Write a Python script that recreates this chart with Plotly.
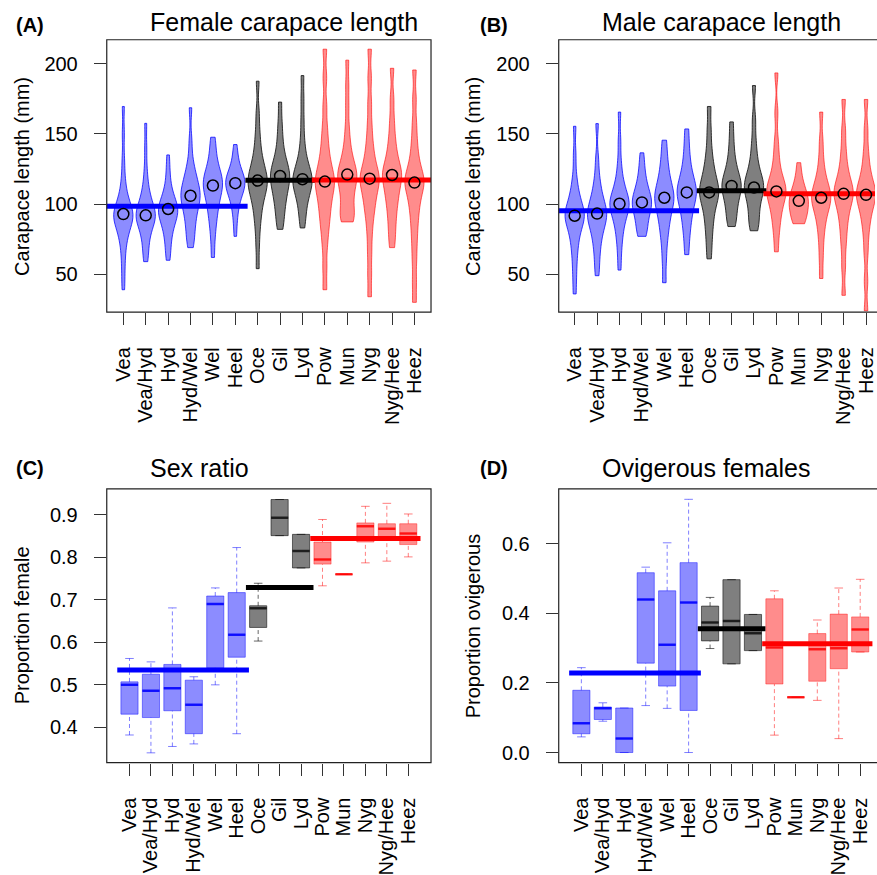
import plotly.graph_objects as go

# ---------------- data ----------------
sites = ["Vea", "Vea/Hyd", "Hyd", "Hyd/Wel", "Wel", "Heel", "Oce", "Gil", "Lyd",
         "Pow", "Mun", "Nyg", "Nyg/Hee", "Heez"]
site_group = [0, 0, 0, 0, 0, 0, 1, 1, 1, 2, 2, 2, 2, 2]

# (A) female carapace length (mm): representative values per site
female_cl = [
    [39, 50, 60, 68, 74, 78, 81, 84, 86, 88, 90, 91, 92, 93, 94, 96, 98, 100, 103, 107, 112, 120, 132, 150, 169.5],
    [59, 64, 70, 75, 79, 82, 85, 87, 89, 90, 91, 92, 93, 94, 96, 98, 100, 103, 106, 110, 116, 125, 140, 157.5],
    [60, 66, 72, 77, 81, 84, 87, 89, 91, 93, 94, 95, 96, 97, 98, 100, 102, 104, 107, 111, 117, 125, 135],
    [69, 74, 79, 84, 88, 92, 95, 98, 101, 103, 105, 106, 108, 110, 112, 115, 118, 121, 125, 132, 145, 168.6],
    [62, 75, 84, 90, 95, 99, 103, 106, 109, 111, 113, 115, 117, 119, 121, 124, 128, 133, 140, 147.6],
    [77, 88, 95, 100, 104, 107, 109, 111, 113, 114, 115, 116, 117, 118, 120, 122, 125, 129, 135, 142.4],
    [54, 70, 82, 90, 96, 101, 105, 108, 111, 113, 115, 117, 119, 121, 124, 127, 131, 136, 143, 152, 165, 187.5],
    [82, 88, 94, 99, 103, 107, 110, 113, 116, 118, 120, 122, 124, 127, 130, 134, 140, 148, 158, 172.6],
    [83, 90, 96, 101, 105, 108, 111, 113, 115, 117, 118, 120, 122, 125, 128, 132, 138, 147, 160, 175, 191.5],
    [39, 55, 70, 80, 87, 93, 98, 103, 107, 111, 114, 116, 119, 122, 126, 131, 137, 145, 155, 170, 190, 210.3],
    [87.3, 88, 90, 93, 97, 101, 105, 109, 112, 115, 118, 120, 121, 123, 126, 129, 133, 138, 145, 155, 170, 185, 202.5],
    [34, 50, 65, 78, 88, 95, 100, 105, 109, 113, 116, 118, 120, 123, 127, 132, 138, 146, 157, 172, 190, 210.3],
    [69, 78, 86, 93, 99, 104, 108, 112, 116, 119, 121, 123, 126, 130, 135, 141, 149, 160, 175, 196.7],
    [30, 45, 60, 72, 82, 90, 97, 102, 107, 111, 114, 116, 118, 121, 125, 130, 137, 146, 158, 175, 195.5],
]
female_median = [92.9, 92.0, 96.5, 105.9, 113.2, 114.9, 116.7, 120.0, 117.7, 116.0, 121.0, 118.1, 120.7, 115.3]
female_group_mean = [98.4, 117.0, 117.2]

# (B) male carapace length (mm)
male_cl = [
    [36, 48, 58, 66, 72, 77, 81, 84, 87, 89, 91, 92, 93, 95, 97, 100, 103, 107, 112, 120, 135, 155.4],
    [49, 58, 66, 72, 77, 81, 84, 87, 89, 91, 93, 94, 96, 98, 101, 104, 108, 113, 120, 132, 157.3],
    [53, 65, 74, 80, 85, 89, 92, 95, 97, 99, 100, 101, 103, 105, 108, 111, 115, 121, 130, 145, 165.5],
    [77, 79, 82, 86, 90, 93, 96, 98, 100, 101, 102, 104, 106, 109, 112, 116, 121, 128, 136.5],
    [44, 60, 72, 80, 86, 91, 95, 99, 102, 104, 106, 109, 112, 116, 121, 127, 135, 145.5],
    [64, 75, 83, 89, 94, 98, 102, 105, 107, 109, 111, 114, 117, 121, 126, 133, 142, 153.5],
    [61, 72, 81, 88, 94, 99, 103, 106, 108, 110, 113, 116, 120, 125, 131, 140, 153, 169.5],
    [84, 88, 93, 98, 102, 106, 109, 111, 113, 115, 117, 120, 124, 129, 136, 146, 158.5],
    [81, 85, 90, 95, 100, 104, 108, 110, 112, 114, 116, 119, 123, 128, 135, 145, 160, 184.4],
    [66, 78, 86, 92, 97, 101, 105, 107, 109, 111, 113, 116, 120, 126, 134, 145, 165, 193.4],
    [86, 87, 89, 92, 95, 98, 100, 102, 103, 105, 107, 110, 114, 120, 129.5],
    [47, 62, 74, 83, 89, 94, 98, 101, 103, 105, 107, 110, 113, 117, 123, 132, 145, 165.5],
    [35, 55, 70, 80, 88, 94, 99, 103, 106, 108, 110, 113, 117, 122, 129, 139, 153, 174.5],
    [24, 45, 65, 78, 87, 93, 98, 102, 105, 107, 109, 112, 116, 121, 128, 138, 153, 174.5],
]
male_median = [91.7, 93.2, 100.2, 101.2, 104.5, 108.3, 108.3, 112.9, 111.8, 109.0, 102.3, 104.5, 107.3, 106.6]
male_group_mean = [95.3, 109.4, 107.3]

# (C) sex ratio (proportion female): box statistics
sex_lo  = [0.382, 0.340, 0.355, 0.361, 0.500, 0.385, 0.603, 0.851, 0.775, 0.733, 0.760, 0.787, 0.791, 0.801]
sex_q1  = [0.431, 0.423, 0.439, 0.385, 0.540, 0.565, 0.635, 0.851, 0.775, 0.784, 0.760, 0.836, 0.848, 0.830]
sex_med = [0.500, 0.486, 0.492, 0.453, 0.690, 0.618, 0.680, 0.893, 0.815, 0.795, 0.760, 0.873, 0.867, 0.856]
sex_q3  = [0.507, 0.525, 0.548, 0.511, 0.709, 0.717, 0.686, 0.936, 0.854, 0.836, 0.760, 0.881, 0.879, 0.879]
sex_hi  = [0.562, 0.554, 0.681, 0.519, 0.728, 0.823, 0.739, 0.936, 0.854, 0.889, 0.760, 0.920, 0.927, 0.902]
sex_group_mean = [0.535, 0.729, 0.844]

# (D) proportion ovigerous females: box statistics
ovi_lo  = [0.045, 0.090, 0.000, 0.135, 0.127, 0.000, 0.299, 0.255, 0.293, 0.050, 0.159, 0.150, 0.040, 0.289]
ovi_q1  = [0.054, 0.095, 0.000, 0.257, 0.191, 0.121, 0.321, 0.255, 0.293, 0.197, 0.159, 0.205, 0.241, 0.289]
ovi_med = [0.084, 0.127, 0.040, 0.440, 0.310, 0.431, 0.374, 0.378, 0.343, 0.302, 0.159, 0.297, 0.300, 0.354]
ovi_q3  = [0.179, 0.131, 0.128, 0.517, 0.465, 0.546, 0.421, 0.497, 0.397, 0.442, 0.159, 0.342, 0.398, 0.390]
ovi_hi  = [0.244, 0.143, 0.128, 0.533, 0.603, 0.728, 0.446, 0.497, 0.397, 0.465, 0.159, 0.381, 0.473, 0.498]
ovi_group_mean = [0.229, 0.356, 0.313]

# group spans for the mean lines (site index units)
violin_group_span = [(0.0, 6.55), (6.45, 9.55), (9.42, 15.0)]
box_group_span = [(0.43, 6.57), (6.43, 9.58), (9.43, 14.57)]

# ---------------- styles ----------------
FONT = "Liberation Sans, Arial, sans-serif"
fill_col = ["rgba(0,0,255,0.45)", "rgba(0,0,0,0.5)", "rgba(255,0,0,0.45)"]
edge_col = ["rgba(0,0,255,0.75)", "rgba(30,30,30,0.9)", "rgba(255,0,0,0.6)"]
box_edge = ["rgba(0,0,255,0.45)", "rgba(20,20,20,0.6)", "rgba(255,0,0,0.4)"]
med_col = ["rgba(0,0,255,0.85)", "rgba(20,20,20,0.85)", "rgba(255,0,0,0.8)"]
whisk_col = ["rgba(0,0,255,0.5)", "rgba(0,0,0,0.6)", "rgba(255,0,0,0.5)"]
mean_col = ["#0000ff", "#000000", "#ff0000"]

pos = [i + 1 for i in range(len(sites))]
W, H = 877, 875

fig = go.Figure()


def px_x(p):
    return p / W


def px_y(p):
    return 1 - p / H


def add_violins(samples, medians, means, ax, bw):
    xa, ya = ax
    for i, s in enumerate(samples):
        g = site_group[i]
        fig.add_trace(go.Violin(
            x=[pos[i]] * len(s), y=s, xaxis=xa, yaxis=ya,
            spanmode="hard", scalemode="width", width=0.86, bandwidth=bw,
            points=False, box_visible=False, meanline_visible=False,
            fillcolor=fill_col[g], line=dict(color=edge_col[g], width=1),
            hoverinfo="skip", showlegend=False))
    for g in range(3):
        x0, x1 = violin_group_span[g]
        fig.add_trace(go.Scatter(x=[x0, x1], y=[means[g], means[g]], xaxis=xa, yaxis=ya,
                                 mode="lines", line=dict(color=mean_col[g], width=5),
                                 hoverinfo="skip", showlegend=False))
    fig.add_trace(go.Scatter(x=pos, y=medians, xaxis=xa, yaxis=ya, mode="markers",
                             marker=dict(symbol="circle-open", size=11,
                                         color="black", line=dict(width=1.5)),
                             hoverinfo="skip", showlegend=False))


def add_boxes(lo, q1, med, q3, hi, means, ax):
    xa, ya = ax
    for g in range(3):
        idx = [i for i in range(len(sites)) if site_group[i] == g]
        fig.add_trace(go.Box(
            x=[pos[i] for i in idx], q1=[q1[i] for i in idx], median=[med[i] for i in idx],
            q3=[q3[i] for i in idx], lowerfence=[q1[i] for i in idx],
            upperfence=[q3[i] for i in idx], width=0.8, whiskerwidth=0,
            xaxis=xa, yaxis=ya, fillcolor=fill_col[g],
            line=dict(color=box_edge[g], width=1), hoverinfo="skip", showlegend=False))
        wx, wy, cx, cy, mx, my = [], [], [], [], [], []
        for i in idx:
            p = pos[i]
            wx += [p, p, None, p, p, None]
            wy += [q3[i], hi[i], None, lo[i], q1[i], None]
            cx += [p - 0.2, p + 0.2, None, p - 0.2, p + 0.2, None]
            cy += [hi[i], hi[i], None, lo[i], lo[i], None]
            mx += [p - 0.4, p + 0.4, None]
            my += [med[i], med[i], None]
        fig.add_trace(go.Scatter(x=wx, y=wy, xaxis=xa, yaxis=ya, mode="lines",
                                 line=dict(color=whisk_col[g], width=1, dash="4px,3px"),
                                 hoverinfo="skip", showlegend=False))
        fig.add_trace(go.Scatter(x=cx, y=cy, xaxis=xa, yaxis=ya, mode="lines",
                                 line=dict(color=whisk_col[g], width=1),
                                 hoverinfo="skip", showlegend=False))
        fig.add_trace(go.Scatter(x=mx, y=my, xaxis=xa, yaxis=ya, mode="lines",
                                 line=dict(color=med_col[g], width=2.5),
                                 hoverinfo="skip", showlegend=False))
    for g in range(3):
        x0, x1 = box_group_span[g]
        fig.add_trace(go.Scatter(x=[x0, x1], y=[means[g], means[g]], xaxis=xa, yaxis=ya,
                                 mode="lines", line=dict(color=mean_col[g], width=5),
                                 hoverinfo="skip", showlegend=False))


add_violins(female_cl, female_median, female_group_mean, ("x", "y"), 7)
add_violins(male_cl, male_median, male_group_mean, ("x2", "y2"), 7)
add_boxes(sex_lo, sex_q1, sex_med, sex_q3, sex_hi, sex_group_mean, ("x3", "y3"))
add_boxes(ovi_lo, ovi_q1, ovi_med, ovi_q3, ovi_hi, ovi_group_mean, ("x4", "y4"))

tickfont = dict(family=FONT, size=20, color="black")


def xaxis_cfg(dom, rng, anchor):
    return dict(domain=dom, range=rng, anchor=anchor, tickmode="array", tickvals=pos,
                ticktext=sites, tickangle=-90, ticks="outside", ticklen=12, tickwidth=1,
                tickcolor="#333", tickfont=tickfont, showgrid=False, zeroline=False,
                showline=False, ticklabelstandoff=14, ticklabeloverflow="allow",
                fixedrange=True)


def yaxis_cfg(dom, rng, anchor, vals, txt):
    return dict(domain=dom, range=rng, anchor=anchor, tickmode="array", tickvals=vals,
                ticktext=txt, ticks="outside", ticklen=12, tickwidth=1, tickcolor="#333",
                tickfont=tickfont, showgrid=False, zeroline=False, showline=False,
                ticklabelstandoff=12, fixedrange=True)


yA = [1 - 314 / H, 1 - 40 / H]
yC = [1 - 767 / H, 1 - 491.7 / H]
xL = [107 / W, 432 / W]
xR = [560 / W, 1.0]

fig.update_layout(
    width=W, height=H, margin=dict(l=0, r=0, t=0, b=0),
    paper_bgcolor="white", plot_bgcolor="white", showlegend=False,
    violinmode="overlay", boxmode="overlay",
    font=dict(family=FONT, color="black"),
    xaxis=xaxis_cfg(xL, [0.26, 14.74], "y"),
    yaxis=yaxis_cfg(yA, [23, 217], "x", [50, 100, 150, 200], ["50", "100", "150", "200"]),
    xaxis2=xaxis_cfg(xR, [0.288, 14.40], "y2"),
    yaxis2=yaxis_cfg(yA, [23, 217], "x2", [50, 100, 150, 200], ["50", "100", "150", "200"]),
    xaxis3=xaxis_cfg(xL, [-0.06, 15.06], "y3"),
    yaxis3=yaxis_cfg(yC, [0.317, 0.961], "x3", [0.4, 0.5, 0.6, 0.7, 0.8, 0.9],
                     ["0.4", "0.5", "0.6", "0.7", "0.8", "0.9"]),
    xaxis4=xaxis_cfg(xR, [-0.056, 14.69], "y4"),
    yaxis4=yaxis_cfg(yC, [-0.029, 0.758], "x4", [0.0, 0.2, 0.4, 0.6],
                     ["0.0", "0.2", "0.4", "0.6"]),
)

# frames around panels
for xr, yr, x1 in [("x", "y", 1), ("x2", "y2", 1.05), ("x3", "y3", 1), ("x4", "y4", 1.05)]:
    fig.add_shape(type="rect", xref=xr + " domain", yref=yr + " domain", x0=0, x1=x1,
                  y0=0, y1=1, line=dict(color="#222", width=1.2), fillcolor="rgba(0,0,0,0)",
                  layer="above")

ann = []
for txt, x, y in [("(A)", 30, 25), ("(B)", 495, 25), ("(C)", 30, 471), ("(D)", 495, 471)]:
    ann.append(dict(text="<b>" + txt + "</b>", x=px_x(x), y=px_y(y), xref="paper", yref="paper",
                    xanchor="center", yanchor="middle", showarrow=False,
                    font=dict(family=FONT, size=20, color="black")))
for txt, x, y in [("Female carapace length", 148, 22), ("Male carapace length", 601, 22),
                  ("Sex ratio", 148, 471), ("Ovigerous females", 601, 471)]:
    ann.append(dict(text=txt, x=px_x(x), y=px_y(y), xref="paper", yref="paper",
                    xanchor="left", yanchor="middle", showarrow=False,
                    font=dict(family=FONT, size=25, color="black")))
for txt, x, y in [("Carapace length (mm)", 22, 177), ("Carapace length (mm)", 474, 177),
                  ("Proportion female", 22, 629), ("Proportion ovigerous", 474, 629)]:
    ann.append(dict(text=txt, x=px_x(x), y=px_y(y), xref="paper", yref="paper",
                    xanchor="center", yanchor="middle", textangle=-90, showarrow=False,
                    font=dict(family=FONT, size=20, color="black")))
fig.update_layout(annotations=ann)

fig.write_html("out.html")
